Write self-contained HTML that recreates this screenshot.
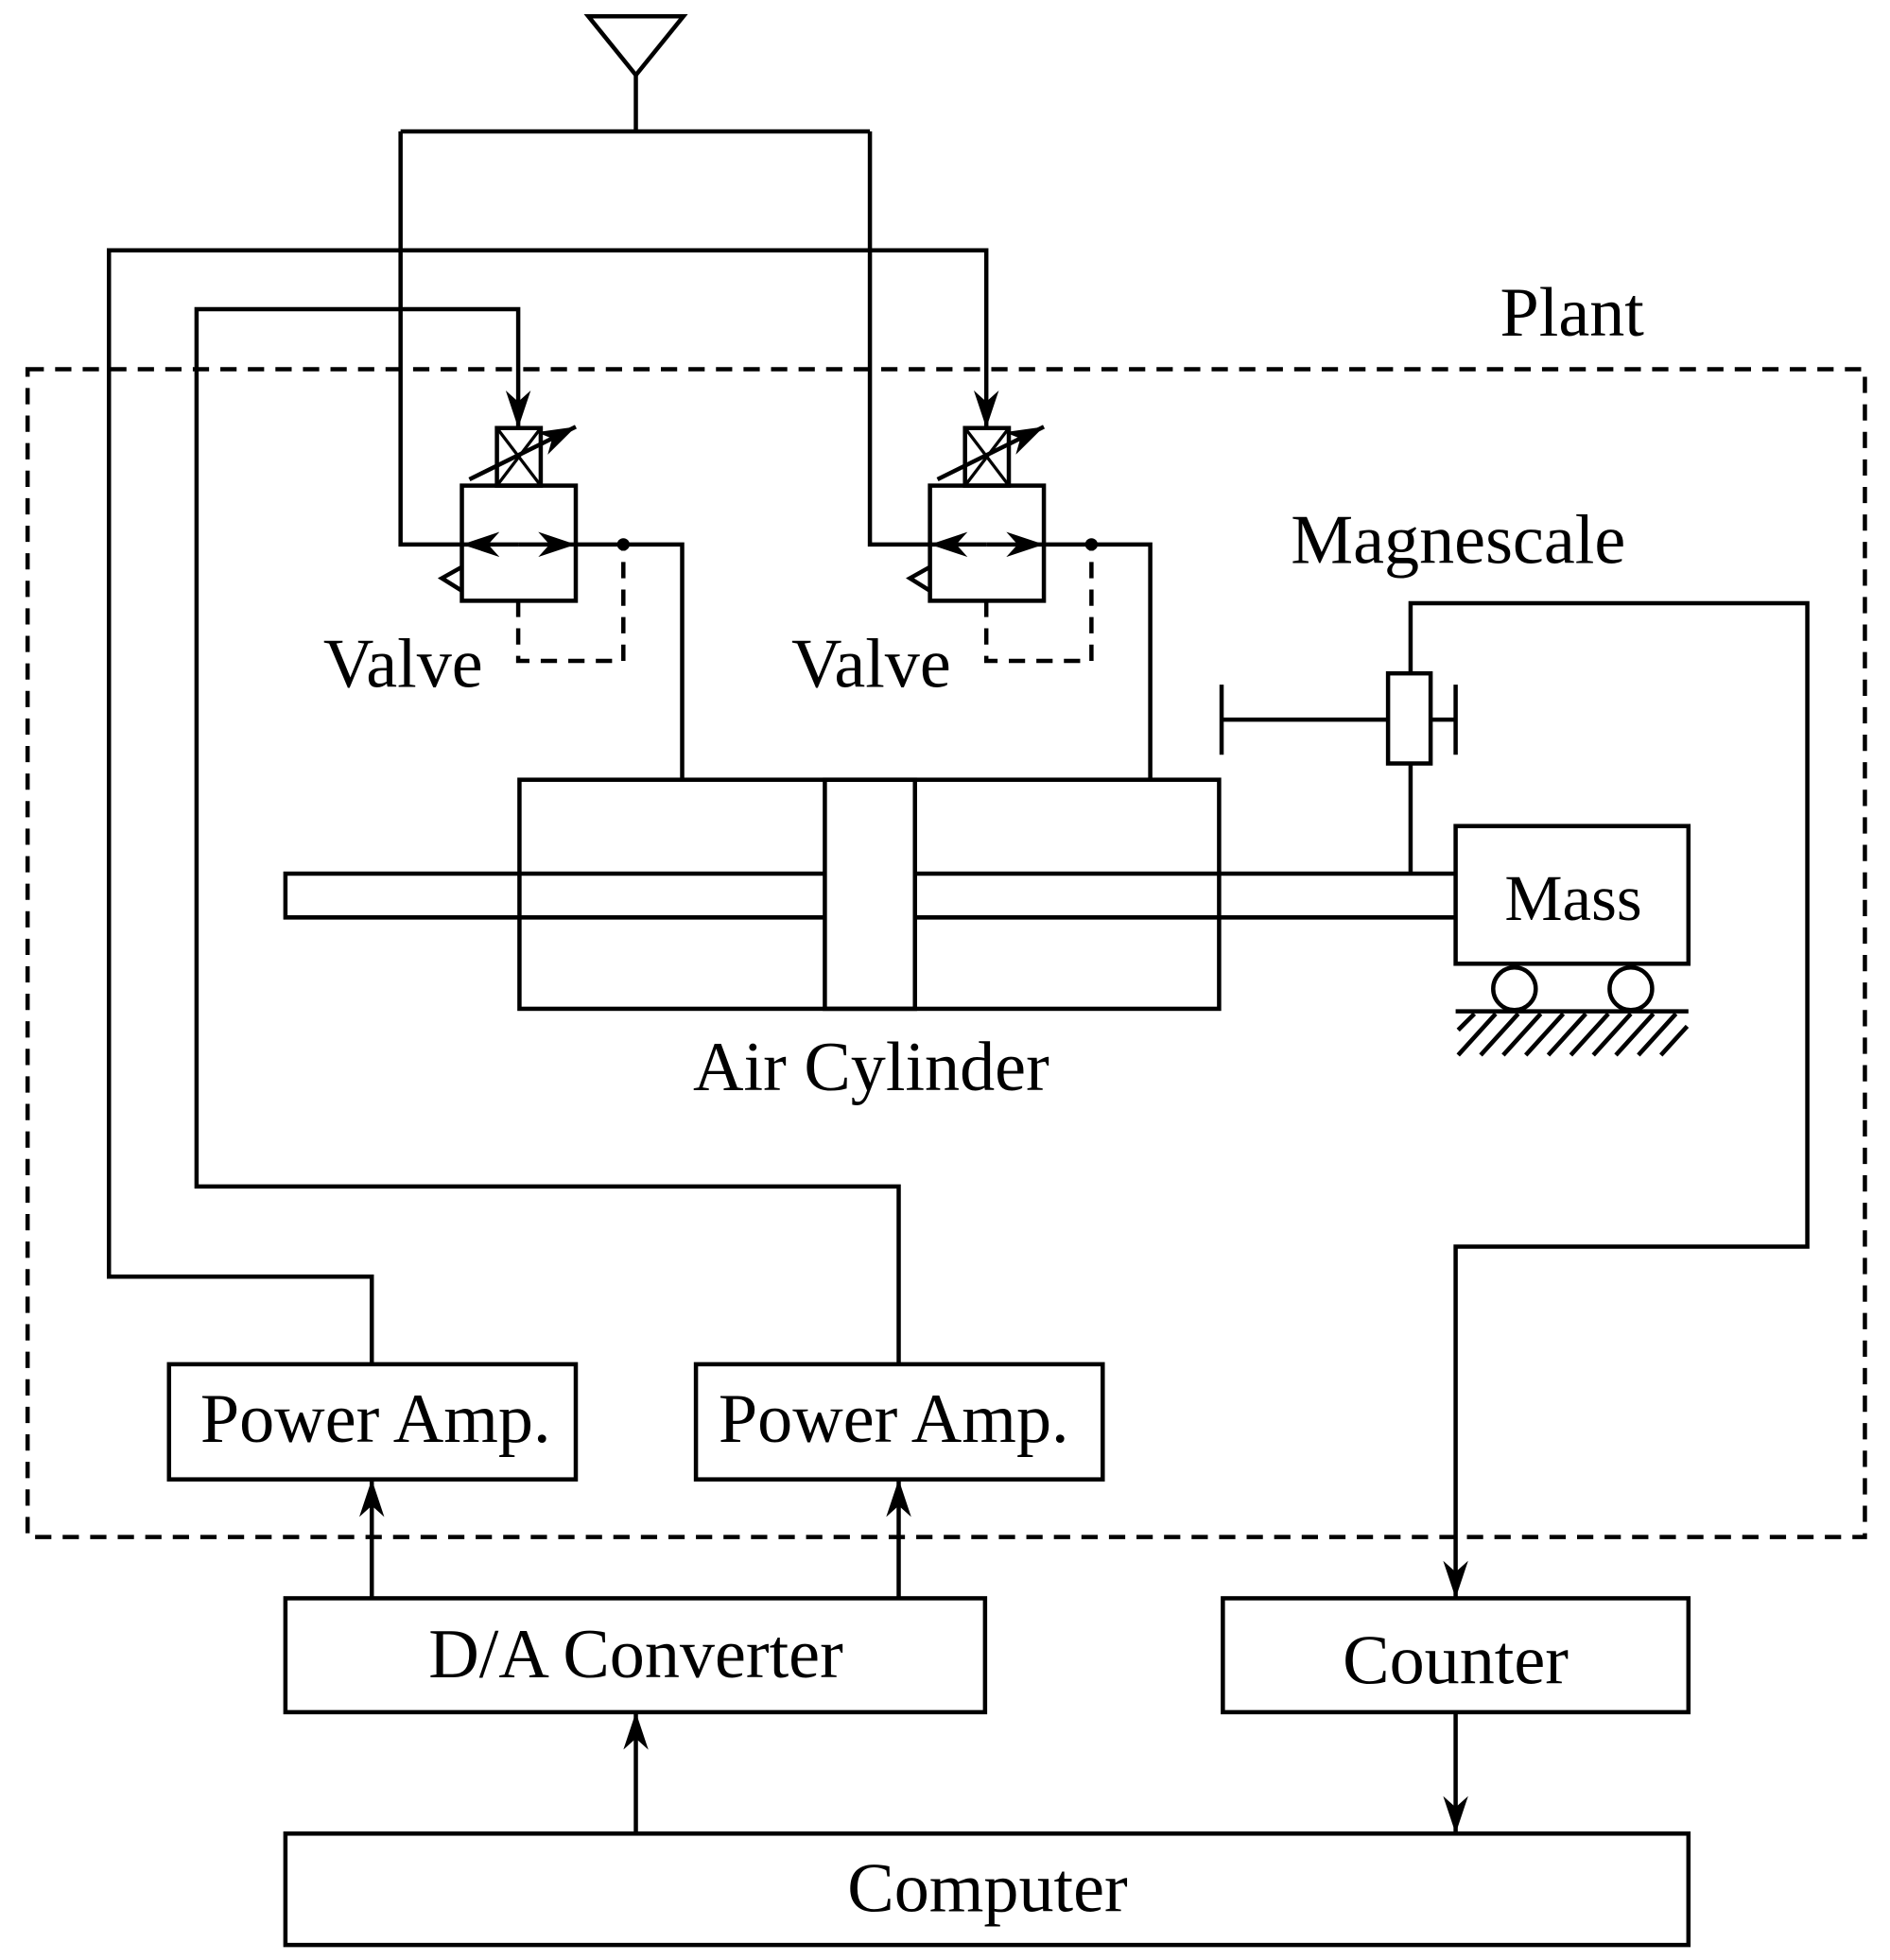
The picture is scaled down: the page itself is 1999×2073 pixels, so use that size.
<!DOCTYPE html>
<html><head><meta charset="utf-8"><style>html,body{margin:0;padding:0;background:#fff}svg{display:block}</style></head>
<body>
<svg width="1999" height="2073" viewBox="0 0 1510 1566" xmlns="http://www.w3.org/2000/svg">
<defs>
<marker id="ah" viewBox="0 0 30 20" refX="30" refY="10" markerWidth="30" markerHeight="20" markerUnits="userSpaceOnUse" orient="auto">
<path d="M0,0 L30,10 L0,20 L9,10 Z" fill="#000"/>
</marker>
</defs>
<g fill="none" stroke="#000" stroke-width="3.4">
<path d="M470,13 L546,13 L508,60 Z"/>
<path d="M508,60 V105 M320,105 H695"/>
<path d="M320,105 V435 H369 M695,105 V435 H743"/>
<path d="M297,1090 V1020 H87 V200 H788 V342" marker-end="url(#ah)"/>
<path d="M718,1090 V948 H157 V247 H414 V342" marker-end="url(#ah)"/>
<rect x="22" y="295" width="1468" height="933" stroke-dasharray="13,9"/>
<rect x="369" y="388" width="91" height="92" fill="#fff"/>
<rect x="397" y="342" width="35" height="46"/>
<path d="M397,342 L432,388 M432,342 L397,388" stroke-width="2.5"/>
<path d="M375,383 L460,341" marker-end="url(#ah)"/>
<path d="M414,435 L369,435" marker-end="url(#ah)"/>
<path d="M414,435 L460,435" marker-end="url(#ah)"/>
<path d="M369,453 L353,462 L369,472"/>
<path d="M460,435 H545 V623"/>
<path d="M414,480 V528 H498 V435" stroke-dasharray="13,9"/>
<rect x="743" y="388" width="91" height="92" fill="#fff"/>
<rect x="771" y="342" width="35" height="46"/>
<path d="M771,342 L806,388 M806,342 L771,388" stroke-width="2.5"/>
<path d="M749,383 L834,341" marker-end="url(#ah)"/>
<path d="M788,435 L743,435" marker-end="url(#ah)"/>
<path d="M788,435 L834,435" marker-end="url(#ah)"/>
<path d="M743,453 L727,462 L743,472"/>
<path d="M834,435 H919 V623"/>
<path d="M788,480 V528 H872 V435" stroke-dasharray="13,9"/>
<rect x="415" y="623" width="559" height="183"/>
<rect x="659" y="623" width="72" height="183"/>
<path d="M659,698 H228 V733 H659 M731,698 H1163 M731,733 H1163"/>
<path d="M1127,538 V482 H1444 V996 H1163 V1277" marker-end="url(#ah)"/>
<rect x="1109" y="538" width="34" height="72"/>
<path d="M976,575 H1109 M976,547 V603 M1143,575 H1163 M1163,547 V603 M1127,610 V698"/>
<rect x="1163" y="660" width="186" height="110"/>
<circle cx="1210" cy="790" r="17"/>
<circle cx="1303" cy="790" r="17"/>
<path d="M1163,808 H1349"/>
<path d="M1165,823 L1178,810 M1165,843 L1195,810 M1183,843 L1213,810 M1201,843 L1231,810 M1219,843 L1249,810 M1237,843 L1267,810 M1255,843 L1285,810 M1273,843 L1303,810 M1291,843 L1321,810 M1309,843 L1339,810 M1327,843 L1348,820" stroke-width="3.5"/>
<rect x="135" y="1090" width="325" height="92"/>
<rect x="556" y="1090" width="325" height="92"/>
<rect x="228" y="1277" width="559" height="91"/>
<rect x="977" y="1277" width="372" height="91"/>
<rect x="228" y="1465" width="1121" height="89"/>
<path d="M297,1277 V1182" marker-end="url(#ah)"/>
<path d="M718,1277 V1182" marker-end="url(#ah)"/>
<path d="M508,1465 V1368" marker-end="url(#ah)"/>
<path d="M1163,1368 V1465" marker-end="url(#ah)"/>
</g>
<circle cx="498" cy="435" r="5" fill="#000"/>
<circle cx="872" cy="435" r="5" fill="#000"/>
<g font-family="'Liberation Serif', serif" font-size="56" text-anchor="middle" fill="#000">
<text x="1256" y="268">Plant</text>
<text x="322" y="549">Valve</text>
<text x="696" y="549">Valve</text>
<text x="1165" y="450">Magnescale</text>
<text x="1257" y="735" font-size="52">Mass</text>
<text x="696" y="871">Air Cylinder</text>
<text x="300" y="1152">Power Amp.</text>
<text x="714" y="1152">Power Amp.</text>
<text x="508" y="1340">D/A Converter</text>
<text x="1163" y="1345">Counter</text>
<text x="789" y="1527">Computer</text>
</g>
</svg>
</body></html>
